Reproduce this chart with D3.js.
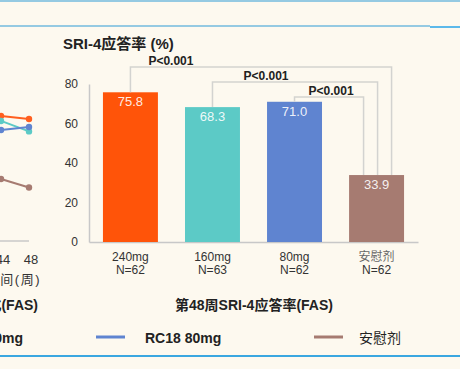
<!DOCTYPE html>
<html>
<head>
<meta charset="utf-8">
<script src="https://cdn.jsdelivr.net/npm/d3@7"></script>
<style>
  html, body { margin: 0; padding: 0; background: #fdf9ef; }
  svg { display: block; font-family: "Liberation Sans", Arial, "Noto Sans CJK SC", sans-serif; }
</style>
</head>
<body>
<svg id="chart" width="460" height="369"></svg>
<script>
// bar chart data (week 48)
const groups = ["240mg", "160mg", "80mg", "安慰剂"];
const groupN = ["N=62", "N=63", "N=62", "N=62"];
const rates = [75.8, 68.3, 71.0, 33.9];
const barColors = ["#ff5409", "#5ccac6", "#5f84d0", "#a67b71"];
const yTicks = [0, 20, 40, 60, 80];

// significance comparisons: [from group, to group, label]
const comparisons = [
  ["240mg", "安慰剂", "P<0.001"],
  ["160mg", "安慰剂", "P<0.001"],
  ["80mg", "安慰剂", "P<0.001"]
];

// partial line chart on the left (only weeks 44 and 48 visible)
const weeks = [44, 48];
const lineSeries = [
  { name: "RC18 240mg", values: [63.8, 62.3], color: "#ff5f1f" },
  { name: "RC18 160mg", values: [61.3, 56.0], color: "#5ccac6" },
  { name: "RC18 80mg", values: [56.7, 58.2], color: "#5f84d0" },
  { name: "安慰剂", values: [31.9, 27.6], color: "#a67b71" }
];

const svg = d3.select("#chart");

// frame lines
svg.append("line").attr("x1", 0).attr("x2", 460).attr("y1", 1).attr("y2", 1)
  .attr("stroke", "#2e9bd6").attr("stroke-width", 1.2);
svg.append("line").attr("x1", 0).attr("x2", 430).attr("y1", 26).attr("y2", 26)
  .attr("stroke", "#2e9bd6").attr("stroke-width", 1.2);
svg.append("line").attr("x1", 430).attr("x2", 460).attr("y1", 27).attr("y2", 27)
  .attr("stroke", "#5cb9ea").attr("stroke-width", 2);
svg.append("line").attr("x1", 0).attr("x2", 460).attr("y1", 356).attr("y2", 356)
  .attr("stroke", "#3ba7e0").attr("stroke-width", 2);

// --- bar chart ---
const y = d3.scaleLinear().domain([0, 80]).range([242, 84]);
const x = d3.scaleBand().domain(groups).range([89, 418]).paddingInner(0.33).paddingOuter(0.17);

svg.append("text")
  .attr("x", 63).attr("y", 49)
  .attr("font-size", 15).attr("font-weight", "bold").attr("fill", "#222")
  .text("SRI-4应答率 (%)");

const yAxis = svg.append("g")
  .attr("transform", "translate(89,0)")
  .call(d3.axisLeft(y).tickValues(yTicks).tickSize(0).tickPadding(11));
yAxis.select(".domain").attr("stroke", "#c8c8c8").attr("stroke-width", 1.5);
yAxis.selectAll("text").attr("font-size", 12).attr("fill", "#333")
  .attr("font-family", "Liberation Sans, Arial, sans-serif");

const xAxis = svg.append("g")
  .attr("transform", "translate(0,242)")
  .call(d3.axisBottom(x).tickSize(0).tickFormat(""));
xAxis.select(".domain").attr("stroke", "#c8c8c8").attr("stroke-width", 1.5);

const barGroup = svg.append("g");
barGroup.selectAll("rect")
  .data(groups)
  .enter().append("rect")
  .attr("x", d => x(d))
  .attr("width", x.bandwidth())
  .attr("y", (d, i) => y(rates[i]))
  .attr("height", (d, i) => y(0) - y(rates[i]))
  .attr("fill", (d, i) => barColors[i]);

barGroup.selectAll(".val")
  .data(groups)
  .enter().append("text")
  .attr("class", "val")
  .attr("x", d => x(d) + x.bandwidth() / 2)
  .attr("y", (d, i) => y(rates[i]) + 14)
  .attr("text-anchor", "middle")
  .attr("font-size", 13).attr("fill", "#fff").attr("fill-opacity", 0.9)
  .text((d, i) => rates[i].toFixed(1));

// category labels
const catGroup = svg.append("g");
groups.forEach((g, i) => {
  const cx = x(g) + x.bandwidth() / 2;
  const isCn = /[\u4e00-\u9fff]/.test(g);
  catGroup.append("text")
    .attr("x", cx).attr("y", 261)
    .attr("text-anchor", "middle").attr("font-size", 12)
    .attr("fill", isCn ? "#666" : "#333")
    .text(g);
  catGroup.append("text")
    .attr("x", cx).attr("y", 274)
    .attr("text-anchor", "middle").attr("font-size", 12).attr("fill", "#333")
    .text(groupN[i]);
});

// brackets
const bracketGroup = svg.append("g");
const rightOffsets = [15, 1, -13];
const labelOffsets = [18, 31, 14];
comparisons.forEach((c, k) => {
  const i0 = groups.indexOf(c[0]);
  const i1 = groups.indexOf(c[1]);
  const x0 = x(c[0]) + x.bandwidth() / 2;
  const x1 = x(c[1]) + x.bandwidth() / 2 + rightOffsets[k];
  const top = 67 + k * 15;
  bracketGroup.append("path")
    .attr("d", `M${x0},${y(rates[i0])}V${top}H${x1}V${y(rates[i1])}`)
    .attr("fill", "none").attr("stroke", "#d3d3d0").attr("stroke-width", 1.5);
  bracketGroup.append("text")
    .attr("x", x0 + labelOffsets[k]).attr("y", top - 2)
    .attr("font-size", 12).attr("font-weight", "bold").attr("fill", "#222")
    .text(c[2]);
});

svg.append("text")
  .attr("x", 254).attr("y", 310)
  .attr("text-anchor", "middle")
  .attr("font-size", 14).attr("font-weight", "bold").attr("fill", "#222")
  .text("第48周SRI-4应答率(FAS)");

// --- partial line chart (cut off at left edge) ---
const xl = d3.scaleLinear().domain([44, 48]).range([1, 29]);
const yl = d3.scaleLinear().domain([0, 80]).range([242, 84]);

svg.append("line").attr("x1", 0).attr("x2", xl(48)).attr("y1", 241).attr("y2", 241)
  .attr("stroke", "#c8c8c8").attr("stroke-width", 1.5);

const lineGen = d3.line().x((d, i) => xl(weeks[i])).y(d => yl(d));
const lineGroup = svg.append("g");
lineSeries.forEach(s => {
  lineGroup.append("path")
    .attr("d", lineGen(s.values))
    .attr("fill", "none").attr("stroke", s.color).attr("stroke-width", 2);
  lineGroup.selectAll(null)
    .data(s.values)
    .enter().append("circle")
    .attr("cx", (d, i) => xl(weeks[i]))
    .attr("cy", d => yl(d))
    .attr("r", 3.2)
    .attr("fill", s.color);
});

svg.append("g").selectAll("text")
  .data(weeks)
  .enter().append("text")
  .attr("x", d => xl(d) + 2)
  .attr("y", 264)
  .attr("text-anchor", "middle").attr("font-size", 13).attr("fill", "#333")
  .text(d => d);

svg.append("text")
  .attr("x", 41).attr("y", 284).attr("text-anchor", "end")
  .attr("font-size", 13).attr("letter-spacing", 1.5).attr("fill", "#333")
  .text("时间(周)");

svg.append("text")
  .attr("x", 38).attr("y", 310).attr("text-anchor", "end")
  .attr("font-size", 14).attr("font-weight", "bold").attr("fill", "#222")
  .text("SRI-4应答率随时间变化(FAS)");

// legend
const legendItems = [
  { name: "RC18 160mg", color: "#5ccac6", lx: -60, tx: 23, anchor: "end" },
  { name: "RC18 80mg", color: "#5f84d0", lx: 96, tx: 145, anchor: "start" },
  { name: "安慰剂", color: "#a67b71", lx: 314, tx: 359, anchor: "start" }
];
const legend = svg.append("g");
legendItems.forEach(it => {
  legend.append("line")
    .attr("x1", it.lx).attr("x2", it.lx + 29).attr("y1", 337).attr("y2", 337)
    .attr("stroke", it.color).attr("stroke-width", 3);
  legend.append("text")
    .attr("x", it.tx).attr("y", 343).attr("text-anchor", it.anchor)
    .attr("font-size", 14).attr("font-weight", /[\u4e00-\u9fff]/.test(it.name) ? "normal" : "bold")
    .attr("fill", "#222")
    .text(it.name);
});
</script>
</body>
</html>
